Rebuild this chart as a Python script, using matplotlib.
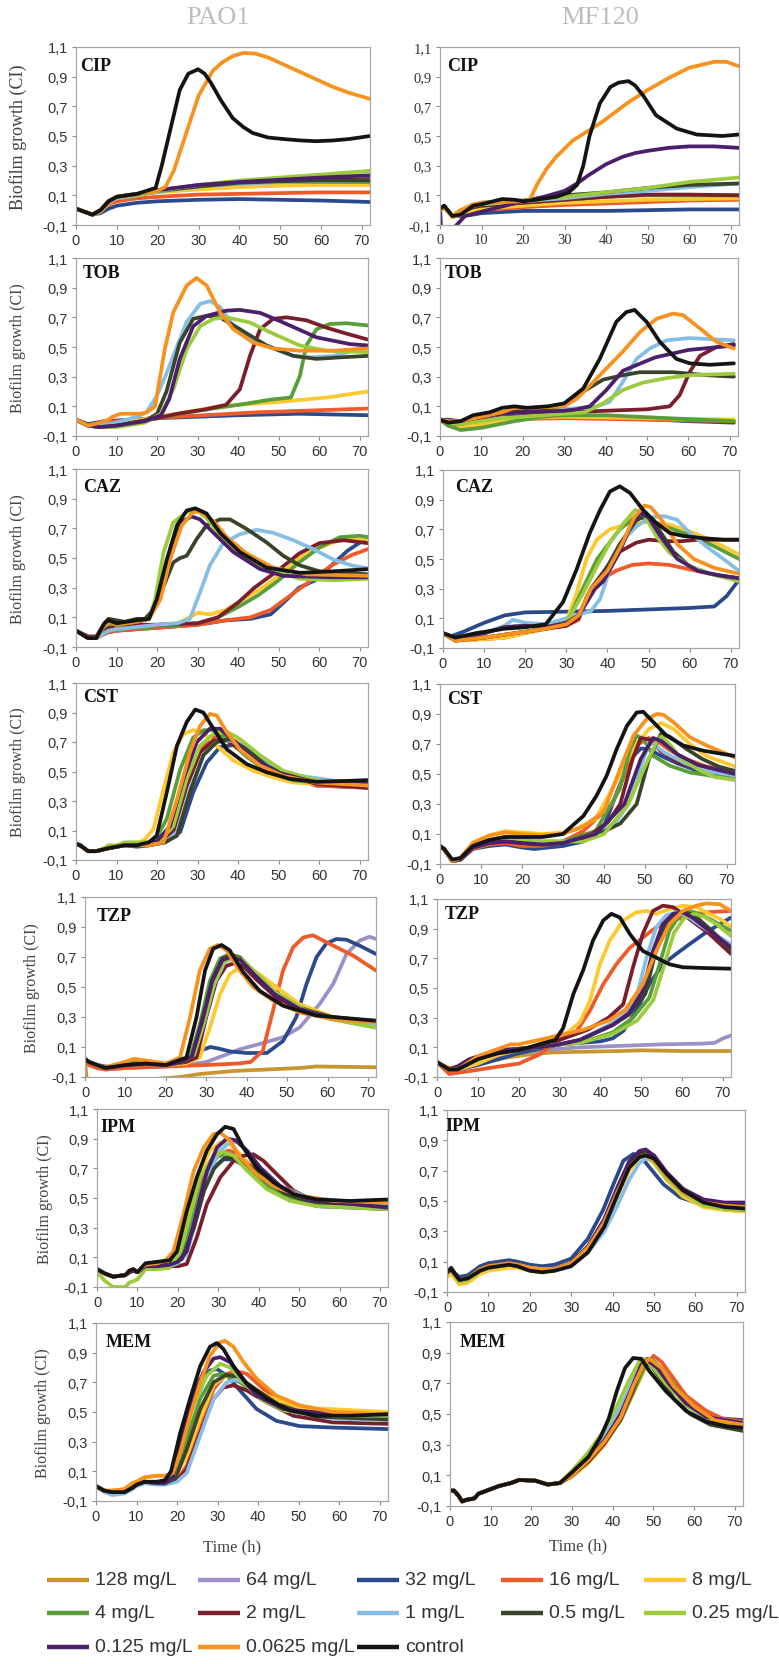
import matplotlib.pyplot as plt
from matplotlib.lines import Line2D

SERIF = ['Liberation Serif', 'DejaVu Serif']
SANS = ['Liberation Sans', 'DejaVu Sans']

# concentrations (legend order) and their colours
conc_labels = ['128 mg/L', '64 mg/L', '32 mg/L', '16 mg/L', '8 mg/L',
               '4 mg/L', '2 mg/L', '1 mg/L', '0.5 mg/L', '0.25 mg/L',
               '0.125 mg/L', '0.0625 mg/L', 'control']
conc_colors = ['#c9962e', '#9d90c8', '#2b4a8b', '#ee5a2a', '#fec82f',
               '#5a9e3b', '#7a1e2b', '#86bee6', '#39442a', '#9ccb3d',
               '#4c1f6b', '#f7921f', '#141414']

y_ticks = [-0.1, 0.1, 0.3, 0.5, 0.7, 0.9, 1.1]
x_ticks = [0, 10, 20, 30, 40, 50, 60, 70]

# ---------------- CIP ----------------
cip_pao1_t = [0, 2, 4, 6, 8, 10, 15, 20, 30, 40, 50, 60, 72]
cip_pao1 = {
    '32 mg/L': (cip_pao1_t, [0.01, -0.01, -0.03, -0.02, 0.01, 0.03, 0.05, 0.06, 0.07, 0.075, 0.07, 0.065, 0.055]),
    '16 mg/L': (cip_pao1_t, [0.01, -0.01, -0.03, -0.01, 0.04, 0.06, 0.08, 0.09, 0.105, 0.11, 0.115, 0.12, 0.12]),
    '8 mg/L': (cip_pao1_t, [0.01, -0.01, -0.03, -0.01, 0.05, 0.08, 0.10, 0.12, 0.14, 0.155, 0.165, 0.17, 0.17]),
    '4 mg/L': (cip_pao1_t, [0.01, -0.01, -0.03, 0.0, 0.06, 0.08, 0.10, 0.125, 0.16, 0.18, 0.19, 0.19, 0.19]),
    '2 mg/L': (cip_pao1_t, [0.01, -0.01, -0.03, 0.0, 0.06, 0.09, 0.11, 0.135, 0.165, 0.19, 0.20, 0.205, 0.21]),
    '1 mg/L': (cip_pao1_t, [0.01, -0.01, -0.03, 0.0, 0.06, 0.08, 0.10, 0.125, 0.16, 0.18, 0.19, 0.195, 0.20]),
    '0.5 mg/L': (cip_pao1_t, [0.01, -0.01, -0.03, 0.0, 0.06, 0.09, 0.11, 0.13, 0.16, 0.185, 0.195, 0.20, 0.20]),
    '0.25 mg/L': (cip_pao1_t, [0.01, -0.01, -0.03, 0.0, 0.06, 0.09, 0.10, 0.13, 0.17, 0.20, 0.22, 0.24, 0.265]),
    '0.125 mg/L': (cip_pao1_t, [0.01, -0.01, -0.03, 0.0, 0.06, 0.09, 0.11, 0.135, 0.17, 0.19, 0.205, 0.22, 0.235]),
    '0.0625 mg/L': ([0, 2, 4, 6, 8, 10, 15, 20, 22, 24, 27, 30, 33.5, 36, 38.5, 41, 44, 47, 51, 55, 59, 63, 67, 72],
                    [0.01, -0.01, -0.03, 0.0, 0.06, 0.09, 0.11, 0.13, 0.16, 0.27, 0.52, 0.77, 0.94, 1.0, 1.04, 1.06, 1.055, 1.03, 0.98, 0.93, 0.88, 0.83, 0.79, 0.75]),
    'control': ([0, 2, 4, 6, 8, 10, 15, 19.5, 21, 22.9, 25.4, 27.5, 29.9, 31.5, 33, 35.5, 38.4, 41, 43.3, 47, 50.6, 55, 58.8, 63, 67, 72],
                [0.01, -0.01, -0.03, 0.0, 0.06, 0.09, 0.11, 0.15, 0.3, 0.52, 0.81, 0.92, 0.95, 0.92, 0.86, 0.74, 0.62, 0.56, 0.52, 0.49, 0.48, 0.47, 0.465, 0.47, 0.48, 0.50]),
}

cip_mf120_t = [0, 1, 3, 5, 8, 10, 20, 30, 40, 50, 60, 72]
cip_mf120 = {
    '32 mg/L': (cip_mf120_t, [0.0, 0.02, -0.04, -0.04, -0.03, -0.02, -0.005, -0.005, -0.005, 0.0, 0.005, 0.005]),
    '16 mg/L': (cip_mf120_t, [0.0, 0.02, -0.04, -0.03, -0.01, 0.0, 0.02, 0.035, 0.045, 0.055, 0.065, 0.07]),
    '8 mg/L': (cip_mf120_t, [0.0, 0.02, -0.05, -0.03, 0.0, 0.01, 0.03, 0.05, 0.06, 0.07, 0.075, 0.08]),
    '4 mg/L': (cip_mf120_t, [0.0, 0.02, -0.04, -0.01, 0.02, 0.03, 0.05, 0.07, 0.09, 0.10, 0.10, 0.10]),
    '2 mg/L': (cip_mf120_t, [0.0, 0.02, -0.04, -0.01, 0.02, 0.03, 0.05, 0.07, 0.09, 0.105, 0.105, 0.10]),
    '1 mg/L': (cip_mf120_t, [0.0, 0.02, -0.04, 0.0, 0.03, 0.04, 0.06, 0.08, 0.11, 0.13, 0.155, 0.18]),
    '0.5 mg/L': (cip_mf120_t, [0.0, 0.03, -0.04, -0.01, 0.03, 0.05, 0.065, 0.10, 0.12, 0.15, 0.17, 0.18]),
    '0.25 mg/L': (cip_mf120_t, [0.0, 0.02, -0.04, 0.0, 0.03, 0.04, 0.06, 0.09, 0.12, 0.15, 0.19, 0.22]),
    '0.125 mg/L': ([0, 0.4, 4, 6, 10, 20, 25, 30, 33, 36, 40, 44, 47, 50, 55, 60, 66, 72],
                   [0.02, -0.2, -0.1, -0.04, -0.01, 0.06, 0.09, 0.13, 0.18, 0.24, 0.31, 0.36, 0.385, 0.40, 0.42, 0.43, 0.43, 0.42]),
    '0.0625 mg/L': ([0, 1, 3, 5, 8, 10, 15, 20, 21.7, 23.5, 25.7, 28, 32, 36, 39.3, 45, 50, 55, 60, 66, 69, 72],
                    [0.0, 0.02, -0.04, 0.0, 0.04, 0.05, 0.055, 0.06, 0.075, 0.18, 0.28, 0.36, 0.47, 0.54, 0.60, 0.72, 0.81, 0.89, 0.96, 1.0, 1.0, 0.97]),
    'control': ([0, 1, 3, 5, 8, 10, 15, 18, 20, 23, 28, 31, 33, 34.5, 36, 38.5, 41, 43, 45.4, 47, 49, 52, 57, 61.8, 68, 72],
                [0.01, 0.03, -0.04, -0.03, 0.03, 0.04, 0.075, 0.07, 0.06, 0.07, 0.09, 0.12, 0.17, 0.3, 0.5, 0.72, 0.83, 0.86, 0.87, 0.84, 0.77, 0.64, 0.55, 0.51, 0.50, 0.51]),
}

# ---------------- TOB ----------------
tob_pao1 = {
    '32 mg/L': ([0, 3, 7, 20, 40, 55, 72], [0.01, -0.02, 0.0, 0.02, 0.04, 0.05, 0.04]),
    '16 mg/L': ([0, 3, 6, 10, 25, 45, 72], [0.01, -0.03, -0.01, 0.0, 0.03, 0.06, 0.085]),
    '8 mg/L': ([0, 3, 6, 10, 20, 25, 35, 50, 62, 72], [0.01, -0.03, -0.03, -0.02, 0.03, 0.05, 0.10, 0.13, 0.16, 0.20]),
    '4 mg/L': ([0, 3, 6, 10, 20, 30, 40, 48, 53, 55.2, 56.8, 59.3, 62.6, 66.7, 72],
               [0.01, -0.03, -0.04, -0.03, 0.02, 0.07, 0.11, 0.145, 0.16, 0.305, 0.51, 0.62, 0.655, 0.66, 0.645]),
    '2 mg/L': ([0, 3, 6, 10, 20, 25, 32, 37, 40.4, 42.9, 45.4, 48.6, 51.9, 56.8, 61.8, 66.7, 72],
               [0.01, -0.03, -0.04, -0.03, 0.02, 0.05, 0.08, 0.11, 0.215, 0.44, 0.62, 0.69, 0.70, 0.68, 0.63, 0.59, 0.55]),
    '1 mg/L': ([0, 3, 6, 10, 15, 17.4, 19.9, 22, 24, 27.3, 30.6, 33, 35.5, 38.8, 43.7, 48.6, 53.6, 57.7, 63.4, 68.4, 72],
               [0.01, -0.03, -0.03, -0.01, 0.03, 0.06, 0.17, 0.30, 0.44, 0.67, 0.79, 0.81, 0.77, 0.645, 0.555, 0.49, 0.44, 0.43, 0.44, 0.475, 0.51]),
    '0.5 mg/L': ([0, 3, 6, 10, 17, 20, 22.3, 25.6, 28.9, 32.2, 35.5, 40.4, 47, 53.6, 59.3, 65, 72],
                 [0.01, -0.03, -0.04, -0.03, 0.0, 0.05, 0.2, 0.53, 0.69, 0.71, 0.70, 0.62, 0.51, 0.44, 0.42, 0.43, 0.44]),
    '0.25 mg/L': ([0, 3, 6, 10, 17, 21, 24, 27.3, 30.6, 33.9, 37.1, 42.9, 48.6, 55.2, 61.8, 72],
                  [0.01, -0.03, -0.04, -0.04, -0.01, 0.05, 0.215, 0.486, 0.64, 0.69, 0.70, 0.665, 0.59, 0.51, 0.475, 0.465]),
    '0.125 mg/L': ([0, 3, 6, 10, 17, 21, 23, 25.6, 28.9, 32.2, 37.1, 40.4, 45.4, 51.1, 59.3, 67.5, 72],
                   [0.01, -0.03, -0.04, -0.03, 0.0, 0.04, 0.15, 0.42, 0.64, 0.71, 0.745, 0.75, 0.73, 0.665, 0.565, 0.52, 0.51]),
    '0.0625 mg/L': ([0, 3, 6, 8, 9, 11, 16, 17.5, 19.5, 21.9, 24, 27.3, 29.7, 32.2, 35.5, 38.8, 43.7, 48.6, 55.2, 63.4, 72],
                    [0.01, -0.03, -0.01, 0.01, 0.03, 0.05, 0.05, 0.06, 0.10, 0.486, 0.735, 0.915, 0.965, 0.915, 0.735, 0.62, 0.53, 0.49, 0.475, 0.475, 0.49]),
}

tob_mf120 = {
    '32 mg/L': ([0, 2, 5, 10, 15, 20, 30, 45, 60, 71], [0.01, 0.01, 0.0, 0.03, 0.045, 0.05, 0.04, 0.02, 0.0, -0.01]),
    '16 mg/L': ([0, 2, 5, 10, 15, 20, 30, 50, 71], [0.01, -0.03, -0.05, -0.03, 0.0, 0.015, 0.02, 0.01, 0.0]),
    '8 mg/L': ([0, 2, 5, 10, 20, 30, 50, 71], [0.01, -0.02, -0.04, -0.02, 0.02, 0.03, 0.02, 0.01]),
    '4 mg/L': ([0, 2, 5, 10, 18, 25, 30, 40, 55, 71], [0.01, -0.03, -0.06, -0.045, 0.0, 0.03, 0.04, 0.04, 0.02, 0.0]),
    '2 mg/L': ([0, 2, 5, 10, 15, 20, 30, 40, 50, 55.5, 57.9, 60.3, 62.8, 66.8, 71],
               [0.01, -0.01, -0.02, 0.02, 0.05, 0.05, 0.06, 0.07, 0.08, 0.10, 0.175, 0.33, 0.44, 0.50, 0.52]),
    '1 mg/L': ([0, 2, 5, 10, 15, 20, 25, 30, 38, 41, 44.2, 47.5, 50.7, 54.7, 60.3, 71],
               [0.01, 0.0, 0.0, 0.03, 0.05, 0.06, 0.07, 0.08, 0.10, 0.13, 0.265, 0.42, 0.49, 0.545, 0.56, 0.545]),
    '0.5 mg/L': ([0, 2, 5, 10, 15, 20, 25, 30, 34.6, 39.4, 44.2, 48.3, 56.3, 64.4, 71],
                 [0.01, 0.0, 0.0, 0.03, 0.06, 0.07, 0.08, 0.108, 0.20, 0.28, 0.31, 0.33, 0.33, 0.31, 0.30]),
    '0.25 mg/L': ([0, 2, 5, 10, 15, 20, 30, 35, 39.4, 44.2, 49, 54.7, 60.3, 71],
                  [0.01, -0.01, -0.02, 0.0, 0.02, 0.03, 0.05, 0.06, 0.12, 0.21, 0.26, 0.29, 0.31, 0.32]),
    '0.125 mg/L': ([0, 2, 5, 10, 15, 20, 30, 33, 36.2, 40.2, 44.2, 52, 60, 71],
                   [0.01, 0.0, 0.0, 0.03, 0.05, 0.06, 0.07, 0.08, 0.10, 0.21, 0.34, 0.43, 0.48, 0.51]),
    '0.0625 mg/L': ([0, 2, 5, 10, 15, 18, 22, 30, 33, 36.2, 40.2, 44.2, 48.3, 52.3, 56.3, 58.7, 62.8, 66.8, 71],
                    [0.01, 0.0, 0.0, 0.03, 0.06, 0.09, 0.09, 0.10, 0.15, 0.24, 0.355, 0.47, 0.60, 0.69, 0.725, 0.715, 0.625, 0.535, 0.49]),
    'control': ([0, 2, 5, 8, 12, 15, 18, 21, 26, 30, 34.6, 38.6, 42.6, 45, 47, 49.9, 53.1, 57.1, 60.3, 65.2, 71],
                [0.01, -0.01, 0.0, 0.04, 0.06, 0.09, 0.10, 0.09, 0.10, 0.12, 0.22, 0.42, 0.67, 0.735, 0.75, 0.67, 0.535, 0.42, 0.39, 0.38, 0.39]),
}

# ---------------- CAZ ----------------
caz_pao1 = {
    '32 mg/L': ([0, 3, 5, 8, 10, 20, 30, 37, 43, 48, 50, 52, 55, 59, 63, 67, 72],
                [0.01, -0.03, -0.03, 0.0, 0.01, 0.03, 0.05, 0.08, 0.09, 0.12, 0.17, 0.22, 0.30, 0.35, 0.45, 0.55, 0.64]),
    '16 mg/L': ([0, 3, 5, 8, 10, 20, 30, 37, 43, 48, 53, 58, 63, 68, 72],
                [0.01, -0.04, -0.04, 0.0, 0.01, 0.03, 0.05, 0.08, 0.10, 0.15, 0.25, 0.35, 0.45, 0.52, 0.56]),
    '8 mg/L': ([0, 3, 5, 8, 10, 20, 25, 28, 30, 33, 37, 40, 46, 51, 55, 60, 65, 72],
               [0.01, -0.04, -0.04, 0.02, 0.03, 0.05, 0.06, 0.10, 0.13, 0.12, 0.15, 0.20, 0.30, 0.40, 0.50, 0.57, 0.62, 0.63]),
    '4 mg/L': ([0, 3, 5, 8, 10, 20, 30, 35, 40, 45, 50, 55, 60, 65, 70, 72],
               [0.01, -0.04, -0.04, 0.01, 0.02, 0.04, 0.06, 0.10, 0.17, 0.25, 0.35, 0.47, 0.57, 0.64, 0.65, 0.64]),
    '2 mg/L': ([0, 3, 5, 8, 10, 20, 30, 35, 40, 44, 50, 55, 60, 66, 72],
               [0.01, -0.03, -0.03, 0.03, 0.05, 0.05, 0.06, 0.10, 0.20, 0.30, 0.42, 0.53, 0.60, 0.62, 0.60]),
    '1 mg/L': ([0, 3, 5, 8, 10, 20, 25, 28.1, 30.6, 33, 36.3, 40.4, 44.5, 48.6, 53.6, 58.5, 63.4, 68, 72],
               [0.01, -0.04, -0.04, 0.01, 0.02, 0.05, 0.06, 0.09, 0.27, 0.45, 0.60, 0.66, 0.69, 0.67, 0.62, 0.56, 0.49, 0.45, 0.43]),
    '0.5 mg/L': ([0, 3, 5, 7, 8, 10, 12, 15, 17, 19, 21.6, 24, 25.7, 27.3, 29.8, 32.2, 35.5, 38, 42.1, 47, 51.1, 55.2, 60.1, 66.7, 72],
                 [0.01, -0.04, -0.03, 0.06, 0.09, 0.08, 0.07, 0.09, 0.09, 0.15, 0.31, 0.47, 0.50, 0.515, 0.63, 0.72, 0.76, 0.76, 0.695, 0.605, 0.515, 0.45, 0.41, 0.40, 0.39]),
    '0.25 mg/L': ([0, 3, 5, 7, 8, 10, 15, 18, 19.5, 21.6, 24, 27.3, 29.8, 32.2, 35.5, 40.4, 47, 55.2, 63.4, 72],
                  [0.01, -0.04, -0.04, 0.04, 0.06, 0.05, 0.07, 0.09, 0.22, 0.54, 0.74, 0.81, 0.82, 0.77, 0.65, 0.515, 0.425, 0.36, 0.35, 0.36]),
    '0.125 mg/L': ([0, 3, 5, 7, 8, 10, 15, 18, 20.8, 24, 26.5, 28.5, 30.6, 33.9, 38.8, 45.4, 51.1, 63.4, 72],
                   [0.01, -0.04, -0.04, 0.05, 0.07, 0.05, 0.07, 0.09, 0.27, 0.63, 0.75, 0.78, 0.76, 0.67, 0.54, 0.425, 0.38, 0.37, 0.37]),
    '0.0625 mg/L': ([0, 3, 5, 7, 8, 10, 15, 18, 20.8, 23.2, 26.1, 28.9, 30.6, 33.9, 37.2, 42.1, 48.6, 56.8, 72],
                    [0.01, -0.04, -0.04, 0.05, 0.07, 0.05, 0.07, 0.09, 0.22, 0.49, 0.72, 0.81, 0.815, 0.75, 0.64, 0.53, 0.435, 0.39, 0.38]),
    'control': ([0, 3, 5, 7, 8, 10, 15, 18, 19.9, 22.4, 24.9, 27.3, 29.4, 32.2, 35.5, 40.4, 47, 55.2, 63.4, 72],
                [0.01, -0.04, -0.04, 0.06, 0.08, 0.06, 0.08, 0.09, 0.22, 0.49, 0.72, 0.82, 0.835, 0.80, 0.67, 0.54, 0.435, 0.40, 0.41, 0.425]),
}

caz_mf120 = {
    '32 mg/L': ([0, 2, 5, 10, 15, 20, 30, 40, 50, 60, 66, 69, 72],
                [0.0, -0.02, 0.01, 0.07, 0.12, 0.14, 0.145, 0.15, 0.16, 0.17, 0.18, 0.25, 0.36]),
    '16 mg/L': ([0, 3, 10, 15, 20, 25, 30, 33, 35, 38, 42, 46, 50, 55, 60, 65, 70, 72],
                [0.0, -0.05, -0.04, -0.03, 0.0, 0.03, 0.05, 0.09, 0.25, 0.35, 0.42, 0.46, 0.47, 0.46, 0.43, 0.40, 0.37, 0.36]),
    '8 mg/L': ([0, 3, 10, 15, 20, 25, 30, 32.5, 34.9, 37.4, 40.6, 45.5, 50.4, 55.2, 60.1, 65, 72],
               [0.0, -0.05, -0.04, -0.03, 0.0, 0.03, 0.08, 0.27, 0.50, 0.63, 0.70, 0.74, 0.75, 0.73, 0.685, 0.63, 0.53]),
    '4 mg/L': ([0, 3, 10, 15, 20, 25, 30, 34, 37.5, 43, 47, 50, 55, 60, 65, 72],
               [0.0, -0.05, -0.03, -0.01, 0.01, 0.03, 0.06, 0.30, 0.50, 0.70, 0.79, 0.76, 0.71, 0.66, 0.60, 0.50]),
    '2 mg/L': ([0, 3, 10, 15, 20, 25, 30, 33, 36, 40, 43, 47, 50, 55, 58, 62, 72],
               [0.0, -0.05, -0.03, -0.01, 0.01, 0.03, 0.05, 0.10, 0.30, 0.45, 0.55, 0.61, 0.63, 0.62, 0.62, 0.63, 0.63]),
    '1 mg/L': ([0, 3, 8, 12, 15, 17, 20, 25, 30, 36, 38.2, 40.6, 43.9, 47.1, 50.4, 53.6, 56.9, 60.1, 65, 68.2, 72],
               [0.0, -0.04, -0.02, 0.02, 0.05, 0.09, 0.07, 0.06, 0.10, 0.15, 0.23, 0.43, 0.63, 0.72, 0.78, 0.79, 0.765, 0.675, 0.565, 0.50, 0.42]),
    '0.5 mg/L': ([0, 3, 10, 15, 20, 25, 30, 33, 36, 39, 43, 47, 49, 52, 56, 60, 65, 72],
                 [0.0, -0.04, 0.0, 0.04, 0.05, 0.04, 0.07, 0.12, 0.30, 0.40, 0.60, 0.76, 0.79, 0.72, 0.55, 0.45, 0.40, 0.37]),
    '0.25 mg/L': ([0, 3, 10, 15, 20, 25, 30, 34.1, 37.4, 40.6, 43.9, 46.7, 48.7, 52, 55.2, 60.1, 65, 72],
                  [0.0, -0.04, 0.0, 0.04, 0.05, 0.04, 0.07, 0.27, 0.45, 0.61, 0.74, 0.83, 0.81, 0.65, 0.54, 0.45, 0.40, 0.35]),
    '0.125 mg/L': ([0, 3, 10, 15, 20, 25, 30, 33, 37, 39, 43, 46, 48, 50, 53, 57, 62, 67, 72],
                   [0.0, -0.04, 0.0, 0.04, 0.05, 0.04, 0.07, 0.12, 0.30, 0.35, 0.55, 0.75, 0.81, 0.78, 0.65, 0.50, 0.42, 0.39, 0.37]),
    '0.0625 mg/L': ([0, 3, 10, 15, 20, 25, 30, 33, 36, 40, 43.5, 46.5, 49, 50.5, 53, 57, 61, 66, 72],
                    [0.0, -0.05, -0.03, -0.01, 0.01, 0.03, 0.06, 0.12, 0.30, 0.42, 0.60, 0.78, 0.86, 0.85, 0.77, 0.60, 0.50, 0.44, 0.40]),
    'control': ([0, 3, 8, 15, 20, 25, 29.2, 32.5, 35.7, 38.2, 40.6, 43, 45.5, 48.7, 52, 55.2, 58.5, 63.4, 68.2, 72],
                [0.0, -0.03, 0.0, 0.03, 0.04, 0.06, 0.21, 0.43, 0.675, 0.83, 0.955, 0.99, 0.945, 0.83, 0.74, 0.675, 0.655, 0.64, 0.63, 0.63]),
}

# ---------------- CST ----------------
cst_pao1 = {
    '32 mg/L': ([0, 1, 3, 5, 8, 10, 12, 15, 18, 22, 25.7, 28.9, 32.2, 35.5, 38.8, 42.1, 47, 52.7, 59.3, 72],
                [0.01, 0.0, -0.04, -0.04, -0.02, -0.01, 0.0, -0.01, 0.0, 0.02, 0.09, 0.36, 0.56, 0.665, 0.68, 0.65, 0.56, 0.46, 0.405, 0.39]),
    '16 mg/L': ([0, 1, 3, 5, 8, 10, 12, 15, 18, 21, 24, 27.3, 30.6, 33.9, 36.3, 39.6, 44.5, 51.1, 59.3, 72],
                [0.01, 0.0, -0.04, -0.04, -0.02, -0.01, 0.0, 0.0, 0.01, 0.03, 0.13, 0.425, 0.65, 0.73, 0.745, 0.70, 0.585, 0.485, 0.405, 0.39]),
    '8 mg/L': ([0, 1, 3, 5, 8, 10, 12, 15, 17, 19.1, 21.6, 24, 26.5, 28.9, 31.4, 34.7, 38.8, 43.7, 48.6, 53.6, 59.3, 72],
               [0.01, 0.0, -0.04, -0.04, -0.02, -0.01, 0.01, 0.01, 0.04, 0.11, 0.38, 0.63, 0.755, 0.78, 0.765, 0.675, 0.575, 0.505, 0.46, 0.425, 0.415, 0.415]),
    '4 mg/L': ([0, 1, 3, 5, 8, 10, 12, 15, 18, 20, 22.4, 25.7, 28.9, 31.4, 33.9, 37.2, 42.1, 47, 53.6, 63.4, 72],
               [0.01, 0.0, -0.04, -0.04, -0.02, -0.01, 0.01, 0.01, 0.02, 0.06, 0.18, 0.515, 0.73, 0.78, 0.78, 0.72, 0.60, 0.505, 0.44, 0.415, 0.415]),
    '2 mg/L': ([0, 1, 3, 5, 8, 10, 12, 15, 18, 21, 24, 27.3, 30.6, 33.9, 37.2, 40.4, 45.4, 51.1, 59.3, 72],
               [0.01, 0.0, -0.04, -0.04, -0.02, -0.01, 0.0, 0.0, 0.0, 0.03, 0.09, 0.40, 0.63, 0.71, 0.71, 0.65, 0.56, 0.485, 0.415, 0.39]),
    '1 mg/L': ([0, 1, 3, 5, 8, 10, 12, 15, 18, 22, 24.9, 28.1, 31.4, 34.7, 38, 41.3, 46, 51.6, 72],
               [0.01, 0.0, -0.04, -0.04, -0.02, -0.01, 0.0, 0.0, 0.0, 0.02, 0.09, 0.38, 0.61, 0.70, 0.71, 0.675, 0.575, 0.485, 0.405]),
    '0.5 mg/L': ([0, 1, 3, 5, 8, 10, 12, 15, 18, 22, 24.9, 28.1, 31.4, 34.7, 38, 42.1, 47, 52.7, 59.3, 72],
                 [0.01, 0.0, -0.04, -0.04, -0.02, -0.01, 0.0, 0.0, 0.0, 0.02, 0.065, 0.36, 0.61, 0.70, 0.72, 0.65, 0.54, 0.46, 0.43, 0.44]),
    '0.25 mg/L': ([0, 1, 3, 5, 7, 8, 10, 12, 15, 18, 21, 24, 27.3, 30.6, 33.9, 37.2, 40.4, 45.4, 51.1, 59.3, 72],
                  [0.01, 0.0, -0.04, -0.04, -0.02, 0.0, 0.0, 0.02, 0.02, 0.02, 0.04, 0.13, 0.45, 0.675, 0.755, 0.77, 0.72, 0.61, 0.505, 0.44, 0.425]),
    '0.125 mg/L': ([0, 1, 3, 5, 8, 10, 12, 15, 18, 20, 23.2, 26.5, 29.8, 33, 35.5, 38.8, 43.7, 49.5, 59.3, 72],
                   [0.01, 0.0, -0.04, -0.04, -0.02, -0.01, 0.0, 0.0, 0.01, 0.03, 0.13, 0.45, 0.70, 0.79, 0.79, 0.71, 0.585, 0.495, 0.425, 0.415]),
    '0.0625 mg/L': ([0, 1, 3, 5, 8, 10, 12, 15, 18, 21.6, 24.9, 28.1, 30.6, 33, 34.7, 37.2, 40.4, 45.4, 51.1, 59.3, 72],
                    [0.01, 0.0, -0.04, -0.04, -0.02, -0.01, 0.0, 0.0, 0.0, 0.02, 0.31, 0.63, 0.81, 0.89, 0.88, 0.765, 0.65, 0.54, 0.47, 0.425, 0.405]),
    'control': ([0, 1, 3, 5, 8, 10, 12, 15, 18, 19.9, 22.4, 24.9, 27.3, 29.4, 31.4, 33.9, 37.2, 42.1, 47, 52.7, 59.3, 72],
                [0.01, 0.0, -0.04, -0.04, -0.02, -0.01, 0.0, 0.0, 0.02, 0.065, 0.36, 0.675, 0.835, 0.92, 0.90, 0.79, 0.65, 0.55, 0.495, 0.45, 0.43, 0.44]),
}

cst_mf120 = {
    '32 mg/L': ([0, 1, 3, 5, 8, 12, 16, 20, 23, 30, 35, 40, 43.5, 46.5, 49, 51, 54, 58, 63, 68, 72],
                [0.02, 0.0, -0.08, -0.07, 0.0, 0.02, 0.03, 0.01, 0.0, 0.02, 0.05, 0.15, 0.40, 0.60, 0.67, 0.665, 0.62, 0.57, 0.52, 0.49, 0.48]),
    '16 mg/L': ([0, 1, 3, 5, 8, 12, 16, 20, 25, 30, 35, 42, 46, 48.5, 51, 53, 56, 60, 65, 72],
                [0.02, 0.0, -0.08, -0.07, 0.0, 0.03, 0.04, 0.02, 0.02, 0.05, 0.12, 0.30, 0.55, 0.70, 0.74, 0.72, 0.66, 0.60, 0.55, 0.52]),
    '8 mg/L': ([0, 1, 3, 5, 8, 12, 16, 20, 25, 30, 33, 38, 43, 48, 51, 54, 57, 61, 65, 72],
               [0.02, 0.0, -0.08, -0.06, 0.04, 0.09, 0.12, 0.11, 0.10, 0.11, 0.13, 0.20, 0.45, 0.70, 0.80, 0.84, 0.80, 0.70, 0.62, 0.55]),
    '4 mg/L': ([0, 1, 3, 5, 8, 12, 16, 20, 25, 30, 38, 43.9, 46.4, 48, 49.6, 52.1, 56.1, 61, 72],
               [0.02, 0.0, -0.08, -0.07, 0.02, 0.06, 0.08, 0.06, 0.05, 0.05, 0.12, 0.40, 0.665, 0.755, 0.735, 0.62, 0.555, 0.51, 0.465]),
    '2 mg/L': ([0, 1, 3, 5, 8, 12, 16, 20, 25, 30, 37, 41, 44, 47, 49, 51, 54, 58, 65, 72],
               [0.02, 0.0, -0.08, -0.07, 0.01, 0.04, 0.05, 0.04, 0.03, 0.04, 0.10, 0.18, 0.30, 0.60, 0.74, 0.73, 0.65, 0.58, 0.52, 0.50]),
    '1 mg/L': ([0, 1, 3, 5, 8, 12, 16, 20, 25, 30, 38, 43, 46, 49, 51, 52, 55, 60, 65, 72],
               [0.02, 0.0, -0.08, -0.07, 0.01, 0.04, 0.05, 0.04, 0.03, 0.04, 0.10, 0.18, 0.30, 0.55, 0.70, 0.70, 0.64, 0.57, 0.52, 0.49]),
    '0.5 mg/L': ([0, 1, 3, 5, 8, 12, 16, 20, 25, 30, 38, 44, 48, 51, 54, 56, 60, 64, 68, 72],
                 [0.02, 0.0, -0.08, -0.07, 0.01, 0.04, 0.05, 0.04, 0.03, 0.04, 0.09, 0.17, 0.30, 0.60, 0.77, 0.75, 0.67, 0.60, 0.55, 0.52]),
    '0.25 mg/L': ([0, 1, 3, 5, 8, 12, 16, 20, 25, 30, 35, 40, 46, 50, 53, 54, 56, 59, 63, 67, 72],
                  [0.02, 0.0, -0.08, -0.07, 0.02, 0.06, 0.08, 0.06, 0.05, 0.05, 0.05, 0.10, 0.30, 0.55, 0.72, 0.75, 0.70, 0.60, 0.53, 0.48, 0.46]),
    '0.125 mg/L': ([0, 1, 3, 5, 8, 12, 16, 20, 25, 30, 38, 45, 49, 52, 54, 58, 63, 72],
                   [0.02, 0.0, -0.08, -0.07, 0.01, 0.04, 0.05, 0.04, 0.03, 0.04, 0.10, 0.30, 0.60, 0.74, 0.72, 0.63, 0.56, 0.50]),
    '0.0625 mg/L': ([0, 1, 3, 5, 8, 12, 16, 20, 25, 30, 35, 40, 43.9, 47.2, 50.4, 52.9, 54.5, 57, 61, 65.1, 72],
                    [0.02, 0.0, -0.08, -0.06, 0.04, 0.09, 0.11, 0.10, 0.09, 0.10, 0.15, 0.25, 0.53, 0.755, 0.865, 0.90, 0.895, 0.845, 0.745, 0.69, 0.61]),
    'control': ([0, 1, 3, 5, 8, 12, 16, 20, 25, 30, 35, 38.2, 40.7, 43.1, 45.6, 48, 49.6, 52.1, 55.3, 59.4, 64.3, 72],
                [0.02, 0.0, -0.07, -0.06, 0.02, 0.06, 0.08, 0.08, 0.08, 0.10, 0.22, 0.355, 0.49, 0.665, 0.82, 0.91, 0.915, 0.845, 0.755, 0.69, 0.655, 0.62]),
}

# ---------------- TZP ----------------
tzp_pao1_ta = [0, 1, 3, 5, 10, 15, 20, 24, 27, 29.5, 32, 34.5, 36.5, 39, 42.5, 47.5, 54, 62, 72]
tzp_pao1_tb = [0, 1, 3, 5, 10, 15, 20, 24, 26.5, 29, 31.5, 34, 36, 38.5, 42, 47, 53, 61, 72]
tzp_pao1 = {
    '128 mg/L': ([0, 0.5, 23.5, 28.4, 36.7, 45, 53, 57.2, 72], [0.02, -0.15, -0.1, -0.08, -0.06, -0.05, -0.04, -0.03, -0.035]),
    '64 mg/L': ([0, 1, 3, 5, 10, 20, 25, 30, 35, 38.3, 43.2, 49, 53.1, 58, 61.4, 64.7, 68, 70.4, 72],
                [0.02, -0.02, -0.04, -0.05, -0.04, -0.03, -0.02, 0.0, 0.05, 0.085, 0.12, 0.165, 0.23, 0.385, 0.52, 0.72, 0.81, 0.835, 0.82]),
    '32 mg/L': ([0, 1, 3, 5, 10, 15, 20, 26, 29, 31, 33, 36, 40, 45, 49, 52.3, 54.8, 57.3, 59.7, 62.2, 64.7, 68, 72],
                [0.02, -0.01, -0.02, -0.03, -0.03, -0.03, -0.02, 0.0, 0.08, 0.10, 0.09, 0.07, 0.06, 0.06, 0.14, 0.30, 0.52, 0.70, 0.79, 0.82, 0.815, 0.775, 0.72]),
    '16 mg/L': ([0, 1, 3, 5, 10, 20, 30, 38, 41, 44, 46.5, 49, 51.5, 54, 56.4, 58.9, 62.2, 66.3, 72],
                [0.02, -0.02, -0.04, -0.05, -0.04, -0.03, -0.02, -0.01, 0.0, 0.075, 0.34, 0.61, 0.765, 0.83, 0.845, 0.81, 0.765, 0.71, 0.61]),
    '8 mg/L': ([0, 1, 3, 5, 7, 9, 12, 15, 20, 25, 28.4, 30.9, 33.4, 35.8, 38.3, 40.3, 43.2, 47.3, 53.1, 61.4, 72],
               [0.02, 0.0, -0.02, -0.04, -0.02, -0.01, 0.02, 0.01, -0.02, -0.01, 0.03, 0.23, 0.45, 0.585, 0.63, 0.63, 0.585, 0.50, 0.385, 0.30, 0.25]),
    '4 mg/L': ([0, 1, 3, 5, 7, 10, 13, 16, 20, 24, 26, 28.4, 30.9, 33.4, 35.8, 38.3, 41.6, 46.5, 53.1, 61.4, 72],
               [0.02, 0.0, -0.02, -0.04, -0.03, -0.01, 0.0, -0.01, -0.02, 0.0, 0.03, 0.25, 0.54, 0.69, 0.72, 0.70, 0.61, 0.475, 0.365, 0.285, 0.23]),
    '2 mg/L': ([0, 1, 3, 5, 10, 15, 20, 25, 27.6, 30, 32.5, 34.9, 37.1, 39.1, 42.4, 47.3, 53.1, 61.4, 72],
               [0.02, 0.0, -0.02, -0.04, -0.02, -0.01, -0.02, 0.0, 0.03, 0.30, 0.54, 0.64, 0.66, 0.64, 0.55, 0.43, 0.34, 0.285, 0.275]),
    '1 mg/L': (tzp_pao1_ta, [0.02, 0.0, -0.02, -0.04, -0.02, -0.01, -0.02, 0.0, 0.05, 0.27, 0.52, 0.665, 0.69, 0.67, 0.575, 0.45, 0.35, 0.285, 0.24]),
    '0.5 mg/L': (tzp_pao1_tb, [0.02, 0.0, -0.02, -0.04, -0.02, -0.01, -0.02, 0.0, 0.04, 0.28, 0.55, 0.69, 0.71, 0.69, 0.59, 0.46, 0.36, 0.30, 0.27]),
    '0.25 mg/L': (tzp_pao1_ta, [0.02, 0.0, -0.02, -0.04, -0.02, -0.01, -0.02, 0.0, 0.05, 0.27, 0.53, 0.67, 0.70, 0.68, 0.59, 0.455, 0.35, 0.28, 0.23]),
    '0.125 mg/L': (tzp_pao1_tb, [0.02, 0.0, -0.02, -0.04, -0.02, -0.01, -0.02, 0.0, 0.04, 0.27, 0.54, 0.68, 0.70, 0.68, 0.58, 0.45, 0.355, 0.29, 0.27]),
    '0.0625 mg/L': ([0, 1, 3, 5, 7, 10, 12, 15, 20, 23.5, 26, 28.4, 30.9, 32.9, 35, 38.3, 41.6, 46.5, 53.1, 61.4, 72],
                    [0.02, 0.0, -0.02, -0.04, -0.02, 0.0, 0.02, 0.01, -0.01, 0.03, 0.30, 0.61, 0.755, 0.78, 0.745, 0.61, 0.50, 0.41, 0.33, 0.285, 0.265]),
    'control': ([0, 1, 3, 5, 10, 15, 20, 25.1, 27.6, 29.7, 31.7, 33.8, 35.8, 39.1, 43.2, 49, 57.2, 72],
                [0.02, 0.0, -0.02, -0.04, -0.02, -0.01, -0.02, 0.03, 0.30, 0.61, 0.755, 0.78, 0.745, 0.60, 0.475, 0.375, 0.31, 0.275]),
}

tzp_mf120 = {
    '128 mg/L': ([0, 3, 6, 12, 17, 22, 28, 35, 45, 50, 60, 72],
                 [0.0, -0.04, -0.03, 0.0, 0.03, 0.05, 0.065, 0.07, 0.075, 0.08, 0.075, 0.075]),
    '64 mg/L': ([0, 3, 5, 10, 15, 20, 25, 30, 35, 45, 55, 65, 68, 70, 72],
                [0.0, -0.05, -0.04, -0.01, 0.03, 0.06, 0.08, 0.09, 0.10, 0.11, 0.12, 0.125, 0.13, 0.16, 0.18]),
    '32 mg/L': ([0, 3, 5, 10, 15, 20, 25, 30, 35, 40, 43, 45.6, 48.8, 52, 55.3, 58.6, 61.8, 65.9, 72],
                [0.0, -0.06, -0.05, -0.02, 0.02, 0.06, 0.09, 0.12, 0.13, 0.14, 0.16, 0.21, 0.345, 0.525, 0.66, 0.73, 0.795, 0.875, 0.975]),
    '16 mg/L': ([0, 3, 8, 15, 20, 25, 30, 34, 37.4, 40.7, 43.9, 47.2, 50.4, 53.7, 57.8, 61.8, 65.9, 72],
                [0.0, -0.08, -0.06, -0.03, -0.01, 0.05, 0.15, 0.20, 0.345, 0.525, 0.66, 0.77, 0.84, 0.91, 0.955, 0.99, 1.01, 1.02]),
    '8 mg/L': ([0, 3, 5, 10, 15, 20, 25, 28, 32, 35, 37.4, 39.9, 42.3, 45.6, 48.8, 51.3, 53.7, 56.9, 60.2, 63.5, 66.7, 70, 72],
               [0.0, -0.05, -0.05, -0.01, 0.05, 0.08, 0.12, 0.17, 0.20, 0.27, 0.41, 0.66, 0.82, 0.955, 1.01, 1.02, 1.0, 1.03, 1.055, 1.045, 1.0, 0.955, 0.91]),
    '4 mg/L': ([0, 3, 5, 10, 15, 20, 25, 30, 35, 43, 48, 52, 54.5, 56.9, 59.4, 61.8, 64.3, 67.5, 72],
               [0.0, -0.05, -0.05, 0.02, 0.07, 0.09, 0.10, 0.12, 0.13, 0.20, 0.30, 0.435, 0.66, 0.885, 0.99, 1.02, 1.0, 0.955, 0.885]),
    '2 mg/L': ([0, 3, 5, 8, 15, 20, 25, 30, 37, 42, 45.6, 48, 50.4, 52.9, 55.3, 57.8, 60.2, 63.5, 66.7, 72],
               [0.0, -0.05, -0.03, 0.02, 0.08, 0.09, 0.10, 0.15, 0.22, 0.30, 0.39, 0.64, 0.865, 1.02, 1.055, 1.045, 1.0, 0.93, 0.865, 0.73]),
    '1 mg/L': ([0, 3, 5, 10, 15, 20, 25, 30, 35, 42, 46, 48.8, 51.3, 53.7, 56.1, 58.6, 61, 65.1, 72],
               [0.0, -0.05, -0.05, 0.02, 0.07, 0.09, 0.10, 0.12, 0.15, 0.25, 0.32, 0.435, 0.705, 0.91, 0.99, 1.01, 0.99, 0.91, 0.795]),
    '0.5 mg/L': ([0, 3, 5, 10, 15, 20, 25, 30, 35, 43, 47, 51, 53.5, 56, 58.5, 61, 63.5, 67.5, 72],
                 [0.0, -0.05, -0.05, 0.02, 0.07, 0.09, 0.10, 0.12, 0.15, 0.25, 0.32, 0.46, 0.74, 0.93, 1.0, 1.01, 0.98, 0.88, 0.76]),
    '0.25 mg/L': ([0, 3, 5, 10, 15, 20, 25, 30, 35, 43, 49, 53, 55.5, 58, 60.5, 63, 65.5, 68.5, 72],
                  [0.0, -0.05, -0.05, 0.02, 0.07, 0.09, 0.10, 0.12, 0.13, 0.19, 0.28, 0.42, 0.64, 0.87, 0.97, 1.0, 0.98, 0.93, 0.85]),
    '0.125 mg/L': ([0, 3, 5, 8, 15, 20, 25, 30, 35, 43, 47, 50.4, 52.9, 55.3, 57.8, 60.2, 62.6, 66.7, 72],
                   [0.0, -0.05, -0.03, 0.02, 0.08, 0.09, 0.10, 0.12, 0.15, 0.25, 0.33, 0.48, 0.75, 0.93, 1.0, 1.01, 0.975, 0.885, 0.775]),
    '0.0625 mg/L': ([0, 3, 5, 10, 15, 18, 20, 25, 30, 36, 42, 46, 50.4, 53.7, 56.9, 60.2, 63.5, 65.9, 69.2, 72],
                    [0.0, -0.05, -0.05, 0.04, 0.09, 0.12, 0.12, 0.15, 0.18, 0.22, 0.28, 0.35, 0.525, 0.75, 0.93, 1.02, 1.055, 1.07, 1.065, 1.02]),
    'control': ([0, 3, 5, 10, 15, 20, 25, 29, 30.9, 33.4, 35.8, 38.2, 40.7, 42.7, 44.8, 47.2, 50.4, 53.7, 56.9, 60.2, 65.1, 72],
                [0.0, -0.05, -0.05, 0.02, 0.06, 0.08, 0.12, 0.15, 0.23, 0.46, 0.62, 0.82, 0.955, 1.0, 0.975, 0.865, 0.75, 0.705, 0.66, 0.64, 0.635, 0.63]),
}

# ---------------- IPM ----------------
ipm_pao1 = {
    '32 mg/L': ([0, 2, 4, 7, 8, 9, 10, 12, 15, 18, 21.4, 23.9, 26.4, 28.8, 31.3, 33.8, 37.1, 41.2, 46.1, 54.4, 72],
                [0.02, -0.01, -0.03, -0.02, 0.0, 0.01, 0.0, 0.04, 0.04, 0.05, 0.10, 0.32, 0.57, 0.705, 0.76, 0.76, 0.705, 0.615, 0.515, 0.445, 0.425]),
    '16 mg/L': ([0, 2, 4, 7, 8, 9, 10, 12, 15, 18, 20, 23, 26, 29, 32.5, 35, 38, 42, 47, 55, 72],
                [0.02, -0.01, -0.03, -0.02, 0.01, 0.02, 0.0, 0.05, 0.06, 0.07, 0.12, 0.38, 0.65, 0.78, 0.82, 0.80, 0.72, 0.62, 0.53, 0.48, 0.46]),
    '8 mg/L': ([0, 2, 4, 7, 8, 9, 10, 12, 15, 18, 20.6, 23.1, 25.5, 28, 30.5, 32.9, 35.4, 38.7, 43.7, 50.2, 58.5, 72],
               [0.02, -0.01, -0.03, -0.02, 0.01, 0.02, 0.0, 0.05, 0.06, 0.07, 0.19, 0.46, 0.68, 0.82, 0.875, 0.865, 0.795, 0.685, 0.58, 0.515, 0.48, 0.46]),
    '4 mg/L': ([0, 2, 4, 7, 8, 9, 10, 12, 15, 18, 21, 24, 27, 29.5, 31.5, 34, 37, 41, 46, 53, 72],
               [0.02, -0.01, -0.03, -0.02, 0.01, 0.02, 0.0, 0.04, 0.05, 0.05, 0.14, 0.42, 0.66, 0.77, 0.80, 0.78, 0.70, 0.60, 0.51, 0.46, 0.44]),
    '2 mg/L': ([0, 2, 4, 7, 8, 9, 10, 12, 15, 18, 20, 22.2, 24.7, 27.2, 30.5, 33.8, 36.2, 38.7, 41.2, 44.5, 48.6, 54.4, 72],
               [0.02, -0.01, -0.03, -0.02, 0.0, 0.01, 0.0, 0.04, 0.04, 0.04, 0.04, 0.055, 0.235, 0.46, 0.64, 0.75, 0.785, 0.795, 0.75, 0.66, 0.55, 0.47, 0.425]),
    '1 mg/L': ([0, 2, 4, 7, 8, 9, 10, 12, 15, 18, 20, 22.2, 24.7, 27.2, 30.5, 32.9, 34.6, 37.1, 40.4, 45.3, 51.9, 72],
               [0.02, -0.01, -0.03, -0.02, 0.0, 0.01, 0.0, 0.04, 0.04, 0.04, 0.06, 0.12, 0.37, 0.64, 0.82, 0.875, 0.88, 0.82, 0.705, 0.58, 0.505, 0.445]),
    '0.5 mg/L': ([0, 2, 4, 7, 8, 9, 10, 12, 15, 18, 21, 24, 26.5, 29, 31.5, 34, 37.5, 41.5, 46.5, 54, 72],
                 [0.02, -0.01, -0.03, -0.02, 0.0, 0.01, 0.0, 0.04, 0.04, 0.05, 0.09, 0.30, 0.55, 0.70, 0.77, 0.77, 0.72, 0.63, 0.53, 0.46, 0.44]),
    '0.25 mg/L': ([0, 2, 4, 7, 8, 9, 10, 12, 15, 18, 20.6, 23.1, 25.5, 28.8, 31.3, 33.8, 37.1, 42, 47.8, 54.4, 72],
                  [0.0, -0.06, -0.1, -0.1, -0.07, -0.06, -0.05, 0.02, 0.02, 0.03, 0.14, 0.39, 0.64, 0.785, 0.81, 0.785, 0.685, 0.56, 0.48, 0.445, 0.425]),
    '0.125 mg/L': ([0, 2, 4, 7, 8, 9, 10, 12, 15, 18, 20, 22.2, 24.7, 27.2, 29.7, 32.1, 34.2, 37.1, 40.4, 45.3, 51.9, 72],
                   [0.02, -0.01, -0.03, -0.02, 0.0, 0.01, 0.0, 0.04, 0.04, 0.05, 0.07, 0.14, 0.41, 0.68, 0.84, 0.90, 0.89, 0.82, 0.705, 0.58, 0.49, 0.435]),
    '0.0625 mg/L': ([0, 2, 4, 7, 8, 9, 10, 12, 15, 17, 18.9, 21.4, 23.9, 26.4, 28.8, 30.5, 33, 35.4, 39.5, 44.5, 50.2, 58.5, 72],
                    [0.02, -0.01, -0.03, -0.02, 0.01, 0.02, 0.0, 0.05, 0.06, 0.08, 0.14, 0.39, 0.68, 0.84, 0.93, 0.94, 0.885, 0.775, 0.66, 0.57, 0.515, 0.48, 0.47]),
    'control': ([0, 2, 4, 7, 8, 9, 10, 12, 15, 18, 19.8, 22.2, 24.7, 27.2, 29.7, 31.7, 33.8, 36.2, 39.5, 43.7, 48.6, 54.4, 62.6, 72],
                [0.02, -0.01, -0.03, -0.02, 0.01, 0.02, 0.0, 0.06, 0.07, 0.08, 0.14, 0.41, 0.64, 0.82, 0.93, 0.98, 0.965, 0.84, 0.705, 0.605, 0.525, 0.49, 0.48, 0.49]),
}

ipm_mf120_t = [0, 1, 3, 5, 8, 10, 15, 17, 20, 23, 26, 30, 34, 38, 41, 44, 46.5, 48, 50, 53, 57, 62, 67, 72]
ipm_mf120 = {
    '32 mg/L': ([0, 1, 3, 5, 8, 10, 15, 17, 20, 23, 26, 30, 34, 37.7, 40.2, 42.6, 45, 46.6, 49, 52.3, 56.3, 61.1, 72],
                [0.02, 0.04, 0.0, 0.01, 0.07, 0.09, 0.11, 0.10, 0.08, 0.07, 0.08, 0.12, 0.25, 0.44, 0.61, 0.765, 0.81, 0.80, 0.72, 0.61, 0.525, 0.48, 0.46]),
    '16 mg/L': (ipm_mf120_t, [0.03, 0.04, -0.02, -0.01, 0.05, 0.07, 0.09, 0.08, 0.06, 0.05, 0.05, 0.09, 0.19, 0.36, 0.55, 0.73, 0.80, 0.81, 0.78, 0.67, 0.57, 0.50, 0.47, 0.46]),
    '8 mg/L': (ipm_mf120_t, [0.0, 0.02, -0.05, -0.04, 0.02, 0.04, 0.06, 0.06, 0.04, 0.03, 0.04, 0.08, 0.17, 0.34, 0.52, 0.70, 0.78, 0.79, 0.75, 0.64, 0.53, 0.46, 0.44, 0.43]),
    '4 mg/L': (ipm_mf120_t, [0.03, 0.06, -0.03, -0.02, 0.04, 0.06, 0.08, 0.07, 0.05, 0.04, 0.05, 0.09, 0.19, 0.37, 0.56, 0.74, 0.81, 0.82, 0.78, 0.67, 0.56, 0.48, 0.45, 0.44]),
    '2 mg/L': (ipm_mf120_t, [0.03, 0.05, -0.02, -0.01, 0.05, 0.07, 0.09, 0.08, 0.05, 0.04, 0.05, 0.09, 0.19, 0.37, 0.56, 0.74, 0.81, 0.82, 0.80, 0.69, 0.58, 0.50, 0.47, 0.46]),
    '1 mg/L': (ipm_mf120_t, [0.02, 0.04, -0.02, -0.01, 0.05, 0.07, 0.09, 0.08, 0.06, 0.05, 0.05, 0.08, 0.16, 0.30, 0.46, 0.64, 0.75, 0.78, 0.77, 0.68, 0.58, 0.50, 0.48, 0.47]),
    '0.5 mg/L': (ipm_mf120_t, [0.03, 0.06, -0.02, -0.01, 0.05, 0.07, 0.09, 0.08, 0.05, 0.04, 0.05, 0.09, 0.19, 0.37, 0.56, 0.75, 0.82, 0.83, 0.79, 0.68, 0.57, 0.50, 0.48, 0.47]),
    '0.25 mg/L': (ipm_mf120_t, [0.02, 0.04, -0.03, -0.02, 0.04, 0.06, 0.08, 0.07, 0.05, 0.04, 0.05, 0.09, 0.18, 0.36, 0.54, 0.72, 0.79, 0.80, 0.76, 0.65, 0.55, 0.47, 0.45, 0.44]),
    '0.125 mg/L': (ipm_mf120_t, [0.03, 0.05, -0.02, -0.01, 0.05, 0.07, 0.09, 0.08, 0.05, 0.04, 0.05, 0.09, 0.20, 0.38, 0.58, 0.76, 0.83, 0.84, 0.80, 0.69, 0.58, 0.51, 0.49, 0.49]),
    '0.0625 mg/L': (ipm_mf120_t, [0.03, 0.04, -0.02, -0.01, 0.05, 0.07, 0.09, 0.08, 0.06, 0.05, 0.05, 0.09, 0.19, 0.36, 0.55, 0.72, 0.79, 0.80, 0.77, 0.67, 0.56, 0.49, 0.47, 0.46]),
    'control': (ipm_mf120_t, [0.03, 0.05, -0.02, -0.01, 0.04, 0.06, 0.08, 0.07, 0.04, 0.03, 0.04, 0.07, 0.16, 0.33, 0.53, 0.72, 0.79, 0.80, 0.78, 0.68, 0.57, 0.49, 0.46, 0.45]),
}

# ---------------- MEM ----------------
mem_pao1 = {
    '32 mg/L': ([0, 2, 4, 7, 9, 10, 12, 15, 17, 18.5, 20.8, 23.2, 25.7, 28.1, 29.8, 32.3, 35.5, 39.6, 44.5, 50.2, 58.4, 72],
                [0.0, -0.03, -0.04, -0.04, -0.01, 0.01, 0.03, 0.02, 0.02, 0.07, 0.36, 0.565, 0.72, 0.78, 0.79, 0.745, 0.645, 0.52, 0.44, 0.405, 0.395, 0.385]),
    '16 mg/L': ([0, 2, 4, 7, 9, 10, 12, 15, 17, 20, 22.4, 25.7, 29, 32.2, 34.7, 37.2, 41.3, 46.2, 54.4, 72],
                [0.0, -0.03, -0.04, -0.04, -0.01, 0.01, 0.03, 0.02, 0.02, 0.04, 0.14, 0.41, 0.655, 0.757, 0.775, 0.757, 0.655, 0.565, 0.50, 0.475]),
    '8 mg/L': ([0, 2, 4, 7, 9, 10, 12, 15, 17, 20, 22.4, 25.7, 29, 31.4, 33.9, 37.2, 42.1, 50.3, 72],
               [0.0, -0.03, -0.03, -0.02, 0.02, 0.03, 0.06, 0.07, 0.07, 0.09, 0.205, 0.455, 0.68, 0.735, 0.735, 0.69, 0.61, 0.53, 0.50]),
    '4 mg/L': ([0, 2, 4, 7, 9, 10, 12, 15, 17, 19.5, 22.4, 25.7, 29, 31.4, 35.5, 40.4, 46.2, 54.4, 72],
               [0.0, -0.03, -0.04, -0.04, -0.01, 0.01, 0.03, 0.02, 0.02, 0.06, 0.32, 0.59, 0.745, 0.757, 0.70, 0.61, 0.53, 0.465, 0.455]),
    '2 mg/L': ([0, 2, 4, 7, 9, 10, 12, 15, 17, 20, 22.4, 25.7, 29, 31.4, 33.9, 37.2, 42.1, 48.6, 58.4, 72],
               [0.0, -0.03, -0.04, -0.04, -0.01, 0.01, 0.03, 0.02, 0.02, 0.04, 0.115, 0.36, 0.59, 0.665, 0.68, 0.645, 0.565, 0.475, 0.43, 0.42]),
    '1 mg/L': ([0, 2, 4, 7, 9, 10, 12, 15, 17, 20, 22.4, 25.7, 29, 32.2, 34.7, 37.9, 42.1, 48.6, 58.4, 72],
               [0.0, -0.04, -0.06, -0.05, -0.02, 0.0, 0.02, 0.01, 0.01, 0.03, 0.09, 0.34, 0.59, 0.70, 0.72, 0.68, 0.59, 0.50, 0.455, 0.445]),
    '0.5 mg/L': ([0, 2, 4, 7, 9, 10, 12, 15, 17, 19.5, 22.4, 25.7, 29, 32, 35, 39, 45, 54, 72],
                 [0.0, -0.03, -0.04, -0.04, -0.01, 0.01, 0.03, 0.02, 0.02, 0.05, 0.25, 0.52, 0.70, 0.75, 0.74, 0.66, 0.55, 0.47, 0.45]),
    '0.25 mg/L': ([0, 2, 4, 7, 9, 10, 12, 15, 17, 19, 20.8, 24, 27.3, 30.6, 33.1, 36.4, 40.4, 46.2, 58.4, 72],
                  [0.0, -0.03, -0.04, -0.04, -0.01, 0.01, 0.03, 0.02, 0.02, 0.06, 0.27, 0.54, 0.745, 0.825, 0.80, 0.70, 0.59, 0.51, 0.475, 0.475]),
    '0.125 mg/L': ([0, 2, 4, 7, 9, 10, 12, 15, 17, 19, 20.8, 23.2, 26.5, 29, 30.6, 33.1, 35.5, 39.6, 46.2, 58.4, 72],
                   [0.0, -0.03, -0.04, -0.04, -0.01, 0.01, 0.03, 0.02, 0.02, 0.06, 0.295, 0.54, 0.77, 0.86, 0.87, 0.835, 0.745, 0.61, 0.52, 0.485, 0.485]),
    '0.0625 mg/L': ([0, 2, 4, 7, 9, 10, 12, 15, 17, 19, 20.8, 23.2, 25.7, 28.1, 30.6, 31.8, 33.9, 36.4, 39.6, 44.5, 50.2, 58.4, 72],
                    [0.0, -0.03, -0.03, -0.02, 0.02, 0.03, 0.06, 0.07, 0.07, 0.09, 0.23, 0.475, 0.70, 0.88, 0.97, 0.98, 0.94, 0.835, 0.725, 0.61, 0.545, 0.50, 0.485]),
    'control': ([0, 2, 4, 7, 9, 10, 12, 15, 17, 18.5, 20.8, 23.2, 25.7, 28.1, 29.8, 31.4, 33.9, 37.2, 42.1, 47.8, 54.4, 62.6, 72],
                [0.0, -0.03, -0.04, -0.04, -0.01, 0.01, 0.03, 0.03, 0.04, 0.10, 0.36, 0.59, 0.81, 0.94, 0.965, 0.925, 0.81, 0.69, 0.59, 0.51, 0.475, 0.475, 0.485]),
}

mem_mf120_t0 = [0, 1, 2, 3, 4, 6, 7, 9, 12, 15, 17, 21, 24, 27]
mem_mf120_y0 = [0.0, 0.0, -0.03, -0.07, -0.06, -0.05, -0.02, 0.0, 0.03, 0.05, 0.07, 0.065, 0.04, 0.05]
mem_mf120 = {
    '32 mg/L': (mem_mf120_t0 + [30, 34, 38, 42, 45, 47, 49, 51, 54, 58, 63, 67, 72],
                mem_mf120_y0 + [0.10, 0.20, 0.33, 0.50, 0.70, 0.83, 0.86, 0.82, 0.72, 0.60, 0.50, 0.47, 0.46]),
    '16 mg/L': (mem_mf120_t0 + [30, 34, 38, 41, 45, 48, 50, 52, 55, 58, 63, 67, 72],
                mem_mf120_y0 + [0.10, 0.20, 0.32, 0.46, 0.65, 0.80, 0.88, 0.84, 0.73, 0.62, 0.52, 0.47, 0.45]),
    '8 mg/L': (mem_mf120_t0 + [30, 34, 38, 41.5, 45, 48, 49, 51.5, 55, 60, 65, 72],
               mem_mf120_y0 + [0.09, 0.18, 0.30, 0.45, 0.63, 0.80, 0.84, 0.79, 0.66, 0.52, 0.43, 0.39]),
    '4 mg/L': (mem_mf120_t0 + [30, 34, 38, 42, 45, 48, 49.5, 52, 55, 59, 64, 72],
               mem_mf120_y0 + [0.10, 0.19, 0.31, 0.46, 0.64, 0.82, 0.86, 0.80, 0.69, 0.57, 0.47, 0.42]),
    '2 mg/L': (mem_mf120_t0 + [30, 34, 38, 42, 45, 47, 48.5, 51, 54, 58, 63, 72],
               mem_mf120_y0 + [0.10, 0.19, 0.31, 0.47, 0.66, 0.80, 0.86, 0.80, 0.68, 0.56, 0.47, 0.42]),
    '1 mg/L': (mem_mf120_t0 + [30, 34, 38, 42, 45, 47, 48.5, 51, 55, 60, 65, 72],
               mem_mf120_y0 + [0.12, 0.23, 0.38, 0.55, 0.72, 0.83, 0.85, 0.78, 0.65, 0.52, 0.45, 0.42]),
    '0.5 mg/L': (mem_mf120_t0 + [30, 34, 38, 42, 45.5, 47.5, 49, 52, 55, 59, 64, 72],
                 mem_mf120_y0 + [0.10, 0.20, 0.33, 0.50, 0.72, 0.84, 0.83, 0.72, 0.60, 0.50, 0.43, 0.39]),
    '0.25 mg/L': (mem_mf120_t0 + [30, 34, 38, 41, 44, 46.5, 48, 50, 53, 58, 64, 72],
                  mem_mf120_y0 + [0.13, 0.25, 0.40, 0.55, 0.72, 0.84, 0.86, 0.80, 0.70, 0.56, 0.46, 0.41]),
    '0.125 mg/L': (mem_mf120_t0 + [30, 34, 38, 42, 45, 47, 48.5, 51, 54, 58, 63, 72],
                   mem_mf120_y0 + [0.10, 0.20, 0.33, 0.50, 0.69, 0.82, 0.85, 0.80, 0.69, 0.57, 0.48, 0.44]),
    '0.0625 mg/L': (mem_mf120_t0 + [30, 34, 38, 42, 45, 47.5, 49, 52, 55, 60, 65, 72],
                    mem_mf120_y0 + [0.10, 0.20, 0.32, 0.48, 0.68, 0.82, 0.86, 0.80, 0.68, 0.55, 0.46, 0.43]),
    'control': (mem_mf120_t0 + [30, 34, 37, 39, 41, 43, 45, 47, 49, 53, 58, 63, 68, 72],
                mem_mf120_y0 + [0.12, 0.22, 0.35, 0.47, 0.65, 0.80, 0.865, 0.86, 0.78, 0.65, 0.52, 0.45, 0.42, 0.41]),
}

panel_names = ['CIP', 'TOB', 'CAZ', 'CST', 'TZP', 'IPM', 'MEM']
pao1_panels = [cip_pao1, tob_pao1, caz_pao1, cst_pao1, tzp_pao1, ipm_pao1, mem_pao1]
mf120_panels = [cip_mf120, tob_mf120, caz_mf120, cst_mf120, tzp_mf120, ipm_mf120, mem_mf120]

# layout in pixels of the 779x1665 picture: (left, right, top, bottom)
W, H = 779, 1665
boxes_left = [(76, 370, 48, 226), (76, 368, 259, 437), (76, 368, 470, 648), (76, 368, 684, 861),
              (85, 376, 898, 1078), (97, 388, 1110, 1288), (96, 388, 1324, 1502)]
boxes_right = [(440, 739, 48, 226), (440, 738, 259, 437), (443, 739, 471, 649), (440, 735, 685, 865),
               (437, 731, 900, 1078), (447, 745, 1111, 1293), (450, 743, 1323, 1507)]
name_off_left = [(4, 19), (7, 14), (7, 17), (7, 14), (12, 19), (3, 17), (10, 19)]
name_off_right = [(7, 19), (5, 14), (12, 16), (7, 15), (8, 15), (-2, 16), (10, 20)]
ylabel_x = [18, 18, 18, 18, 32, 45, 43]
ylabel_size = [13, 11.5, 11.5, 11.5, 11.5, 11.5, 11.5]

fig = plt.figure(figsize=(W / 100, H / 100), dpi=100)


def make_axes(box):
    x0, x1, y0, y1 = box
    return fig.add_axes([x0 / W, 1 - y1 / H, (x1 - x0) / W, (y1 - y0) / H])


def draw_panel(ax, data, name, offset, tick_family):
    for label, color in zip(conc_labels, conc_colors):
        if label not in data:
            continue
        t, y = data[label]
        assert len(t) == len(y), (name, label, len(t), len(y))
        ax.plot(t, y, color=color, lw=2.7, solid_capstyle='round', solid_joinstyle='round')
    ax.set_xlim(0, 72)
    ax.set_ylim(-0.1, 1.1)
    ax.set_xticks(x_ticks, labels=[str(v) for v in x_ticks], fontfamily=tick_family)
    ax.set_yticks(y_ticks, labels=[f'{v:.1f}'.replace('.', ',') for v in y_ticks], fontfamily=tick_family)
    ax.tick_params(direction='out', length=3, width=0.8, color='#8c8c8c', pad=3,
                   labelsize=10.5, labelcolor='#333333')
    for sp in ax.spines.values():
        sp.set_color('#a8a8a8')
        sp.set_linewidth(0.9)
    dx, dy = offset
    ax.annotate(name, (0, 1), xycoords='axes fraction', xytext=(dx * 0.72, -dy * 0.72),
                textcoords='offset points', ha='left', va='center',
                fontsize=13, fontweight='bold', family=SERIF, color='#111111')


for i, name in enumerate(panel_names):
    ax_l = make_axes(boxes_left[i])
    draw_panel(ax_l, pao1_panels[i], name, name_off_left[i], SANS)
    ax_r = make_axes(boxes_right[i])
    draw_panel(ax_r, mf120_panels[i], name, name_off_right[i], SERIF if i == 0 else SANS)

    yc = (boxes_left[i][2] + boxes_left[i][3]) / 2
    fig.text(ylabel_x[i] / W, 1 - yc / H, 'Biofilm growth (CI)', rotation=90,
             ha='center', va='center', fontsize=ylabel_size[i], family=SERIF, color='#444444')

# column headers
fig.text(218 / W, 1 - 18 / H, 'PAO1', ha='center', va='center', fontsize=19, family=SERIF, color='#bdbdbd')
fig.text(600 / W, 1 - 18 / H, 'MF120', ha='center', va='center', fontsize=19, family=SERIF, color='#bdbdbd')

# time axis labels
fig.text(232 / W, 1 - 1547 / H, 'Time (h)', ha='center', va='center', fontsize=12, family=SERIF, color='#444444')
fig.text(578 / W, 1 - 1546 / H, 'Time (h)', ha='center', va='center', fontsize=12, family=SERIF, color='#444444')

# legend, five entries per row
legend_x = [47, 198, 357, 501, 644]
legend_y = [1581, 1614, 1648]
for k, (label, color) in enumerate(zip(conc_labels, conc_colors)):
    x = legend_x[k % 5]
    y = 1 - legend_y[k // 5] / H
    fig.add_artist(Line2D([x / W, (x + 42) / W], [y, y], color=color, lw=3.2,
                          solid_capstyle='butt', transform=fig.transFigure))
    fig.text((x + 48) / W, y, label, ha='left', va='center', fontsize=14, family=SANS, color='#333333')

fig.savefig('out.png', dpi=100, facecolor='white')
